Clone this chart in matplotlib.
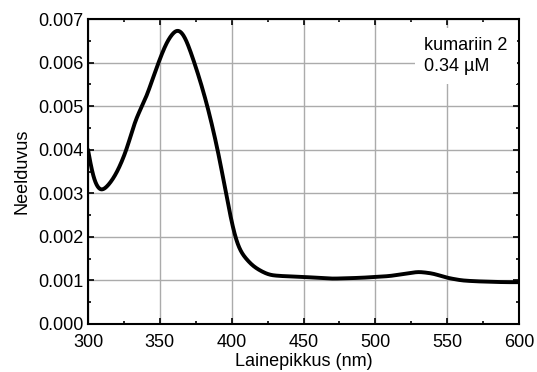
import numpy as np
import matplotlib.pyplot as plt
from matplotlib.ticker import MultipleLocator

plt.rcParams['font.family'] = ['Liberation Sans', 'DejaVu Sans']

# Absorption spectrum
wavelength = [300, 303, 308, 312, 317, 321, 327, 333, 340, 349, 355, 362, 367,
              372, 378, 384, 391, 396, 402, 406, 410, 414, 418, 423, 427, 435,
              450, 460, 470, 480, 490, 500, 510, 520, 530, 540, 550, 560, 570,
              580, 590, 600]
absorbance = [0.0040, 0.00335, 0.00302, 0.0031, 0.0033, 0.00353, 0.0040, 0.0047,
              0.00515, 0.0060, 0.0065, 0.0068, 0.00665, 0.0062, 0.0056, 0.0049,
              0.0039, 0.0030, 0.0020, 0.00165, 0.0015, 0.00135, 0.00126,
              0.00117, 0.00112, 0.0011, 0.00108, 0.00106, 0.00104, 0.00105,
              0.00106, 0.00108, 0.0011, 0.00115, 0.0012, 0.00116, 0.00106,
              0.001, 0.00098, 0.00097, 0.00096, 0.00096]

# smooth the read points for drawing (gaussian, sigma ~2.5 nm)
xs = np.linspace(300, 600, 1201)
ys = np.interp(xs, wavelength, absorbance)
k = np.arange(-30, 31)
kernel = np.exp(-0.5 * (k / 10.0) ** 2)
kernel /= kernel.sum()
ys = np.convolve(np.pad(ys, 30, mode='reflect', reflect_type='odd'), kernel, mode='valid')

fig = plt.figure(figsize=(5.37, 3.72), dpi=100)
ax = fig.add_axes([88 / 537, 48 / 372, 431 / 537, 305 / 372])

ax.plot(xs, ys, color='black', lw=2.8, solid_capstyle='round', zorder=3)

ax.set_xlim(300, 600)
ax.set_ylim(0, 0.007)
ax.xaxis.set_major_locator(MultipleLocator(50))
ax.xaxis.set_minor_locator(MultipleLocator(25))
ax.yaxis.set_major_locator(MultipleLocator(0.001))
ax.yaxis.set_minor_locator(MultipleLocator(0.0005))
ax.yaxis.set_major_formatter(plt.FormatStrFormatter('%.3f'))

ax.grid(True, which='major', color='#ababab', lw=1)
ax.set_axisbelow(True)
ax.tick_params(which='both', direction='in', top=True, right=True,
               labelsize=13, width=1.2, color='black')
ax.tick_params(which='major', length=4)
ax.tick_params(which='minor', length=2.5)
ax.tick_params(axis='x', pad=7)
ax.tick_params(axis='y', pad=3)
for s in ax.spines.values():
    s.set_linewidth(1.5)

ax.set_xlabel('Lainepikkus (nm)', fontsize=13, labelpad=2)
ax.set_ylabel('Neelduvus', fontsize=13, labelpad=6)

ax.text(0.78, 0.94, 'kumariin 2\n0.34 µM', transform=ax.transAxes,
        ha='left', va='top', fontsize=13, linespacing=1.25, zorder=2,
        bbox=dict(boxstyle='square,pad=0.5', fc='white', ec='none'))

fig.savefig('out.png', dpi=100)
